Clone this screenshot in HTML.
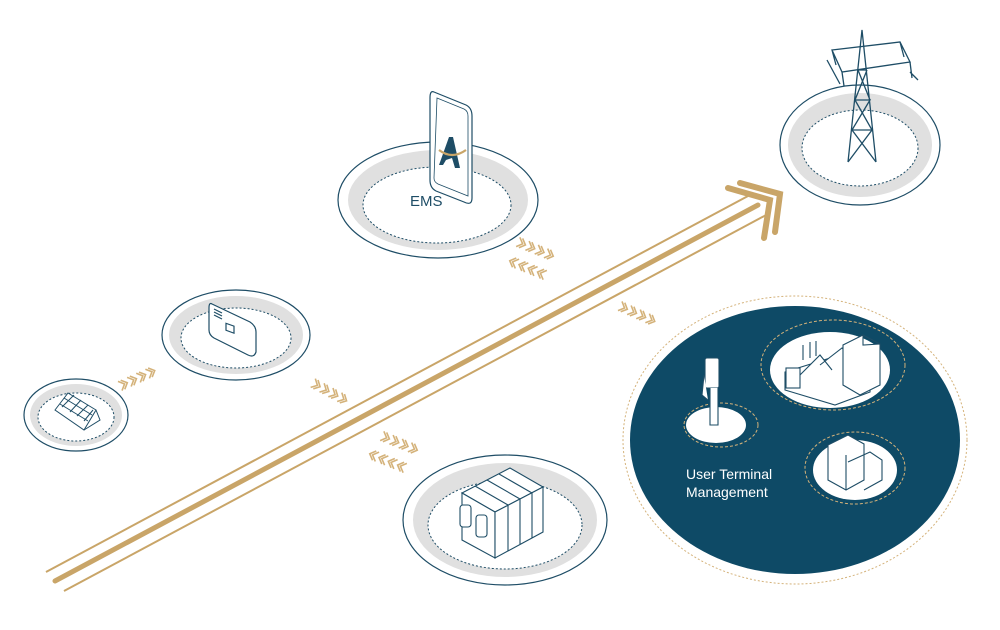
<!DOCTYPE html>
<html><head><meta charset="utf-8"><style>
html,body{margin:0;padding:0;background:#fff;width:1000px;height:630px;overflow:hidden}
svg{display:block}
text{font-family:"Liberation Sans",sans-serif}
</style></head><body>
<svg width="1000" height="630" viewBox="0 0 1000 630" xmlns="http://www.w3.org/2000/svg">
<defs>
<g id="chev4" fill="none" stroke="#d4b27a" stroke-width="1.6">
<polyline points="0,-5 5,0 0,5"/><polyline points="3,-5 8,0 3,5"/>
<polyline points="10,-5 15,0 10,5"/><polyline points="13,-5 18,0 13,5"/>
<polyline points="20,-5 25,0 20,5"/><polyline points="23,-5 28,0 23,5"/>
<polyline points="30,-5 35,0 30,5"/><polyline points="33,-5 38,0 33,5"/>
</g>
</defs>

<!-- main gold arrow lines -->
<g stroke="#c9a568" fill="none">
<line x1="46" y1="572" x2="748" y2="196" stroke-width="2"/>
<line x1="55" y1="581" x2="758" y2="205" stroke-width="5" stroke-linecap="round"/>
<line x1="64" y1="591" x2="768" y2="214" stroke-width="2"/>
<polyline points="728,188 770,200 764,238" stroke-width="6" stroke-linecap="round" stroke-linejoin="miter"/>
<polyline points="740,183 780,194 775,232" stroke-width="6" stroke-linecap="round"/>
</g>

<!-- solar -->
<ellipse cx="76" cy="415" rx="52" ry="36" fill="#fff" stroke="#1e4d66" stroke-width="1.2"/>
<ellipse cx="76" cy="415" rx="46" ry="31" fill="#e0e0e0"/>
<ellipse cx="76" cy="417" rx="38" ry="24" fill="#fff" stroke="#1e4d66" stroke-dasharray="2,2"/>
<g stroke="#1e4d66" fill="#fff" stroke-width="1">
<polygon points="55,410 68,393 96,410 84,430"/>
<path d="M60,404 L88,421 M64,398 L92,415 M62,407 L74,395 M70,412 L81,400 M77,416 L88,405 M84,421 L93,410" fill="none"/>
<path d="M96,410 L100,420 L84,430" fill="none"/>
</g>

<!-- inverter -->
<ellipse cx="236" cy="335" rx="74" ry="45" fill="#fff" stroke="#1e4d66" stroke-width="1.2"/>
<ellipse cx="236" cy="335" rx="67" ry="39" fill="#e0e0e0"/>
<ellipse cx="236" cy="338" rx="55" ry="30" fill="#fff" stroke="#1e4d66" stroke-dasharray="2,2"/>
<g stroke="#1e4d66" fill="#fff" stroke-width="1.2">
<path d="M212,304 L250,322 Q256,326 256,332 L256,352 Q254,358 248,355 L214,338 Q209,335 209,330 L209,308 Q209,302 212,304 Z"/>
<rect x="226" y="325" width="8" height="7" transform="skewY(20) translate(0,-84)"/>
<path d="M214,309 L222,313 M214,312 L222,316 M214,315 L222,319" />
</g>

<!-- EMS -->
<ellipse cx="438" cy="200" rx="100" ry="58" fill="#fff" stroke="#1e4d66" stroke-width="1.2"/>
<ellipse cx="438" cy="200" rx="90" ry="50" fill="#e0e0e0"/>
<ellipse cx="437" cy="205" rx="74" ry="38" fill="#fff" stroke="#1e4d66" stroke-dasharray="2,2"/>
<g stroke="#1e4d66" fill="#fff" stroke-width="1.2">
<path d="M434,92 L466,105 Q472,108 472,116 L472,198 Q472,206 464,202 L436,191 Q430,188 430,180 L430,98 Q430,90 434,92 Z"/>
<path d="M437,98 L464,109 Q468,111 468,116 L468,196 L438,184 Q434,182 434,178 Z" stroke-width="0.8"/>
</g>
<path d="M449,137 L453,137 L460,168 L455,168 L452,158 L446,160 L443,165 L439,165 Z" fill="#1e4d66"/>
<path d="M439,150 Q452,160 466,150" stroke="#c9a568" stroke-width="2.2" fill="none"/>
<text x="410" y="206" font-size="15" fill="#1e4d66">EMS</text>

<!-- tower -->
<ellipse cx="860" cy="145" rx="80" ry="60" fill="#fff" stroke="#1e4d66" stroke-width="1.2"/>
<ellipse cx="860" cy="145" rx="72" ry="52" fill="#e0e0e0"/>
<ellipse cx="860" cy="148" rx="58" ry="38" fill="#fff" stroke="#1e4d66" stroke-dasharray="2,2"/>
<g stroke="#1e4d66" fill="none" stroke-width="1.3">
<path d="M848,162 L862,30 L876,162 M852,130 L872,130 M855,100 L870,100 M858,70 L867,70 M848,162 L872,130 L852,130 L870,100 L855,100 L867,70 M876,162 L852,130 M872,130 L855,100 M870,100 L858,70"/>
<path d="M832,50 L900,42 L910,62 L842,72 Z M832,50 L836,65 M900,42 L904,57 M910,62 L912,78 M842,72 L844,86 M827,60 L840,84 M910,72 L918,80"/>
</g>

<!-- battery -->
<ellipse cx="505" cy="520" rx="102" ry="65" fill="#fff" stroke="#1e4d66" stroke-width="1.2"/>
<ellipse cx="505" cy="520" rx="92" ry="57" fill="#e0e0e0"/>
<ellipse cx="505" cy="525" rx="77" ry="44" fill="#fff" stroke="#1e4d66" stroke-dasharray="2,2"/>
<g stroke="#1e4d66" fill="#fff" stroke-width="1.1">
<path d="M462,493 L510,468 L543,487 L495,512 Z"/>
<path d="M462,493 L495,512 L495,558 L462,540 Z"/>
<path d="M495,512 L543,487 L543,532 L495,558 Z"/>
<path d="M475,486 L508,505 M487,480 L520,499 M499,474 L532,493 M508,505 L508,551 M520,499 L520,544 M532,493 L532,538"/>
<rect x="460" y="505" width="11" height="22" rx="3"/><rect x="476" y="515" width="11" height="22" rx="3"/>
</g>

<!-- UTM -->
<ellipse cx="795" cy="440" rx="172" ry="144" fill="#fff" stroke="#d4b27a" stroke-dasharray="2,2"/>
<ellipse cx="795" cy="440" rx="165" ry="134" fill="#0e4a66"/>
<ellipse cx="721" cy="425" rx="37" ry="22" fill="none" stroke="#d4b27a" stroke-dasharray="3,2"/>
<ellipse cx="716" cy="425" rx="30" ry="18" fill="#fff"/>
<ellipse cx="833" cy="365" rx="72" ry="45" fill="none" stroke="#d4b27a" stroke-dasharray="3,2"/>
<ellipse cx="830" cy="370" rx="60" ry="38" fill="#fff"/>
<ellipse cx="855" cy="468" rx="50" ry="36" fill="none" stroke="#d4b27a" stroke-dasharray="3,2"/>
<ellipse cx="855" cy="470" rx="42" ry="30" fill="#fff"/>
<g stroke="#1e4d66" fill="#fff" stroke-width="1.1">
<rect x="705" y="358" width="14" height="30" rx="2"/>
<path d="M710,388 L710,425 L718,425 L718,388 M704,375 L702,395 L708,400"/>
<path d="M785,372 L840,355 L870,372 L870,392 L835,405 L785,390 Z"/>
<path d="M800,375 L820,355 L832,370 M820,365 L842,348 L856,362"/>
<rect x="786" y="368" width="14" height="20"/>
<path d="M843,345 L863,335 L880,344 L880,385 L860,395 L843,385 Z M863,335 L863,345 L880,344"/>
<path d="M803,360 L803,345 M810,358 L810,342 M816,356 L816,341"/>
<path d="M828,445 L848,435 L864,444 L864,480 L846,490 L828,480 Z M846,455 L846,490 M848,462 L870,452 L882,460 L882,480 L864,490"/>
</g>
<text x="686" y="479" font-size="14" fill="#fff">User Terminal</text>
<text x="686" y="497" font-size="14" fill="#fff">Management</text>

<!-- small chevrons -->
<use href="#chev4" transform="translate(120,386) rotate(-24)"/>
<use href="#chev4" transform="translate(313,383) rotate(28)"/>
<use href="#chev4" transform="translate(518,242) rotate(22)"/>
<use href="#chev4" transform="translate(545,275) rotate(202)"/>
<use href="#chev4" transform="translate(382,436) rotate(22)"/>
<use href="#chev4" transform="translate(405,468) rotate(202)"/>
<use href="#chev4" transform="translate(620,306) rotate(24)"/>
</svg>
</body></html>
